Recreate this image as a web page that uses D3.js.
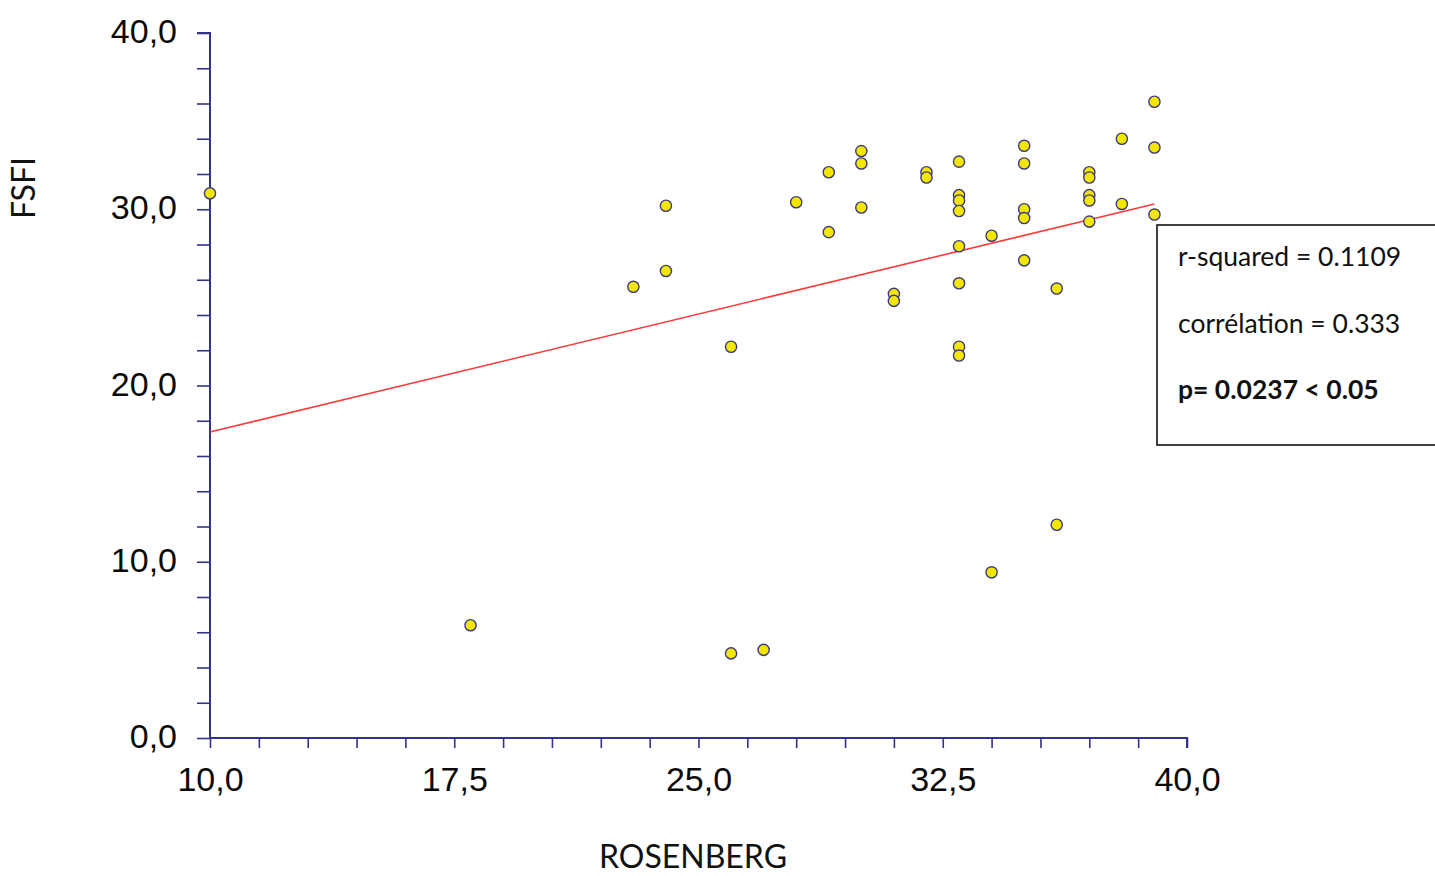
<!DOCTYPE html>
<html>
<head>
<meta charset="utf-8">
<script src="https://cdn.jsdelivr.net/npm/d3@7"></script>
<style>
  html, body { margin: 0; padding: 0; background: #ffffff; }
  svg { display: block; }
</style>
</head>
<body>
<svg id="chart" width="1435" height="876"></svg>
<script>
// ---- data ----
const rosenberg = [10, 18, 23, 24, 24, 26, 26, 27, 28, 29, 29, 30, 30, 30, 31, 31, 32, 32,
                   33, 33, 33, 33, 33, 33, 33, 33, 34, 34, 35, 35, 35, 35, 35, 36, 36,
                   37, 37, 37, 37, 37, 38, 38, 39, 39, 39];
const fsfi      = [30.9, 6.4, 25.6, 30.2, 26.5, 22.2, 4.8, 5.0, 30.4, 32.1, 28.7, 33.3, 32.6, 30.1, 25.2, 24.8, 32.1, 31.8,
                   32.7, 30.8, 30.5, 29.9, 27.9, 25.8, 22.2, 21.7, 28.5, 9.4, 33.6, 32.6, 30.0, 29.5, 27.1, 25.5, 12.1,
                   32.1, 31.8, 30.8, 30.5, 29.3, 34.0, 30.3, 36.1, 33.5, 29.7];
const regIntercept = 12.9;
const regSlope = 0.4462;
const xTickValues = d3.range(0, 21).map(i => 10 + i * 1.5);
const xLabelValues = [10, 17.5, 25, 32.5, 40];
const yTickValues = d3.range(0, 21).map(i => i * 2);
const yLabelValues = [0, 10, 20, 30, 40];
const statsLines = ["r-squared = 0.1109", "corrélation = 0.333", "p= 0.0237 < 0.05"];
const xTitle = "ROSENBERG";
const yTitle = "FSFI";

// ---- drawing ----
const svg = d3.select("#chart");
const axisColor = "#33338a";
const fmt = v => v.toFixed(1).replace(".", ",");

const x = d3.scaleLinear().domain([10, 40]).range([210, 1187]);
const y = d3.scaleLinear().domain([0, 40]).range([738, 33]);

// y axis
const yAxis = svg.append("g").attr("transform", `translate(${x(10)},0)`)
  .call(d3.axisLeft(y).tickValues(yTickValues).tickSize(13).tickPadding(20)
    .tickFormat(v => yLabelValues.some(l => Math.abs(l - v) < 1e-9) ? fmt(v) : ""));
// x axis
const xAxis = svg.append("g").attr("transform", `translate(0,${y(0)})`)
  .call(d3.axisBottom(x).tickValues(xTickValues).tickSize(10).tickPadding(19)
    .tickFormat(v => xLabelValues.some(l => Math.abs(l - v) < 1e-9) ? fmt(v) : ""));

[yAxis, xAxis].forEach(g => {
  g.select(".domain").attr("stroke", axisColor).attr("stroke-width", 2);
  g.selectAll(".tick line").attr("stroke", axisColor).attr("stroke-width", 1.6);
  g.selectAll(".tick text").attr("fill", "#0a0a0a")
    .style("font-family", "'Liberation Sans', Arial, sans-serif")
    .style("font-size", "34px");
});
yAxis.select(".domain").attr("d", `M-13,${y(40)}H0V${y(0)}`);
yAxis.selectAll(".tick text").attr("dy", "0.28em");
xAxis.select(".domain").attr("d", `M${x(10)},0H${x(40)}V10`);

// regression line
const xMin = d3.min(rosenberg), xMax = d3.max(rosenberg);
svg.append("line")
  .attr("x1", x(xMin)).attr("y1", y(regIntercept + regSlope * xMin))
  .attr("x2", x(xMax)).attr("y2", y(regIntercept + regSlope * xMax))
  .attr("stroke", "#ff3b3b").attr("stroke-width", 1.6);

// points
svg.append("g").selectAll("circle")
  .data(rosenberg.map((r, i) => ({ r, f: fsfi[i] })))
  .join("circle")
  .attr("cx", d => x(d.r)).attr("cy", d => y(d.f))
  .attr("r", 5.6)
  .attr("fill", "#f3e600")
  .attr("stroke", "#3a3a7e").attr("stroke-width", 1.4);

// axis titles
svg.append("text").text(xTitle)
  .attr("x", 693).attr("y", 868).attr("text-anchor", "middle")
  .style("font-family", "Lato, 'Open Sans', sans-serif").style("font-size", "32px").attr("fill", "#111");
svg.append("text").text(yTitle)
  .attr("transform", "translate(35,188) rotate(-90)").attr("text-anchor", "middle")
  .style("font-family", "Lato, 'Open Sans', sans-serif").style("font-size", "32px").attr("fill", "#111");

// stats box
svg.append("rect").attr("x", 1157).attr("y", 225).attr("width", 290).attr("height", 220)
  .attr("fill", "#fff").attr("stroke", "#111").attr("stroke-width", 1.6);
const baselines = [266, 333, 399];
statsLines.forEach((t, i) => {
  svg.append("text").text(t)
    .attr("x", 1178).attr("y", baselines[i])
    .style("font-family", "Lato, 'Open Sans', sans-serif")
    .style("font-size", "26.5px")
    .style("font-weight", i === 2 ? "bold" : "normal")
    .attr("fill", "#111");
});
</script>
</body>
</html>
